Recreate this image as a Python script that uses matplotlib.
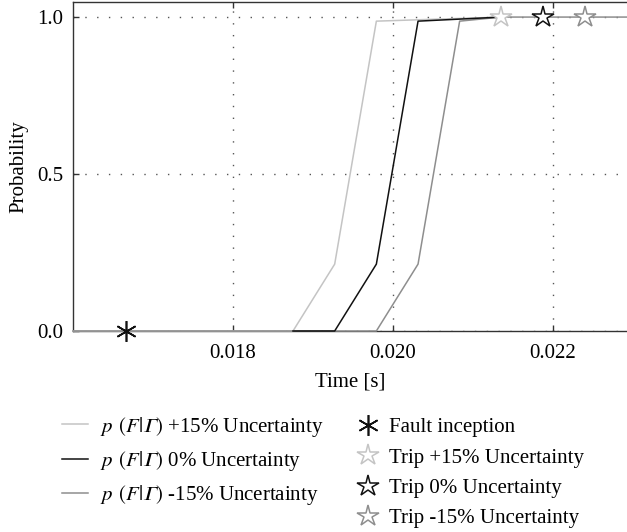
import matplotlib
matplotlib.use("Agg")
import matplotlib.pyplot as plt
from matplotlib.lines import Line2D

plt.rcParams["font.family"] = ["Liberation Serif", "DejaVu Serif"]
plt.rcParams["mathtext.fontset"] = "stix"
plt.rcParams["font.size"] = 15

# Probability curves p(F|Gamma) for three uncertainty levels
t_plus = [0.016, 0.01875, 0.019271, 0.019792, 0.021354]
p_plus = [0.0, 0.0, 0.213, 0.987, 1.0]

t_zero = [0.01875, 0.019271, 0.019792, 0.020313, 0.021354]
p_zero = [0.0, 0.0, 0.213, 0.987, 1.0]

t_minus = [0.016, 0.019792, 0.020313, 0.020833, 0.021354, 0.023]
p_minus = [0.0, 0.0, 0.213, 0.987, 1.0, 1.0]

# Event markers
fault_time = 1 / 60
trip_times = [0.021354, 0.021875, 0.022396]
trip_labels = ["Trip +15% Uncertainty", "Trip 0% Uncertainty", "Trip -15% Uncertainty"]

c_plus = "#c4c4c4"
c_zero = "#111111"
c_minus = "#8e8e8e"
trip_colors = [c_plus, c_zero, c_minus]

curve_labels = [
    r"$p\;\,(F|𝛤)$ +15% Uncertainty",
    r"$p\;\,(F|𝛤)$ 0% Uncertainty",
    r"$p\;\,(F|𝛤)$ -15% Uncertainty",
]

fig = plt.figure(figsize=(6.27, 5.32), dpi=100)
ax = fig.add_axes([73 / 627, 201 / 532, 554 / 627, 329 / 532])

ax.plot(t_plus, p_plus, color=c_plus, lw=1.1, zorder=3, clip_on=False)
ax.plot(t_minus, p_minus, color=c_minus, lw=1.1, zorder=3, clip_on=False)
ax.plot(t_zero, p_zero, color=c_zero, lw=1.1, zorder=3, clip_on=False)

fault_marker = (6, 2, 0)
ax.plot([fault_time], [0.0], ls="none", marker=fault_marker, ms=15, mew=1.2,
        color="#111111", zorder=4, clip_on=False)
for tt, cc in zip(trip_times, trip_colors):
    ax.plot([tt], [1.0], ls="none", marker="*", ms=16, mew=1.1,
            mfc="white", mec=cc, zorder=4, clip_on=False)

ax.set_xlim(0.016, 0.022925)
ax.set_ylim(0.0, 1.048)
ax.set_xticks([0.018, 0.020, 0.022])
ax.set_xticklabels(["0.018", "0.020", "0.022"])
ax.set_yticks([0.0, 0.5, 1.0])
ax.set_yticklabels(["0.0", "0.5", "1.0"])

ax.grid(True, color="#555555", linestyle=(0, (1, 7.5)), linewidth=1.0)
ax.tick_params(direction="in", length=4, width=1, color="#333333",
               top=True, right=False, labelsize=15, pad=9)
ax.tick_params(axis="y", pad=7)
for side in ["left", "top", "bottom"]:
    ax.spines[side].set_color("#333333")
    ax.spines[side].set_linewidth(1.0)
ax.spines["right"].set_visible(False)

ax.set_xlabel("Time [s]", fontsize=15, labelpad=7)
ax.set_ylabel("Probability", fontsize=15, labelpad=6)

curve_handles = [Line2D([], [], color=c, lw=1.1) for c in (c_plus, c_zero, c_minus)]
leg1 = fig.legend(curve_handles, curve_labels, loc="upper left",
                  bbox_to_anchor=(47 / 627, 1 - 400 / 532), frameon=False,
                  fontsize=15, handlelength=1.25, handletextpad=0.6,
                  labelspacing=0.5, borderpad=0.2)

marker_handles = [Line2D([], [], ls="none", marker=fault_marker, ms=15, mew=1.2, color="#111111")]
marker_handles += [Line2D([], [], ls="none", marker="*", ms=16, mew=1.1, mfc="white", mec=c)
                   for c in trip_colors]
leg2 = fig.legend(marker_handles, ["Fault inception"] + trip_labels, loc="upper left",
                  bbox_to_anchor=(343 / 627, 1 - 403 / 532), frameon=False,
                  fontsize=15, handlelength=1.0, handletextpad=0.5,
                  labelspacing=0.52, borderpad=0.2)

fig.savefig("out.png", dpi=100)
